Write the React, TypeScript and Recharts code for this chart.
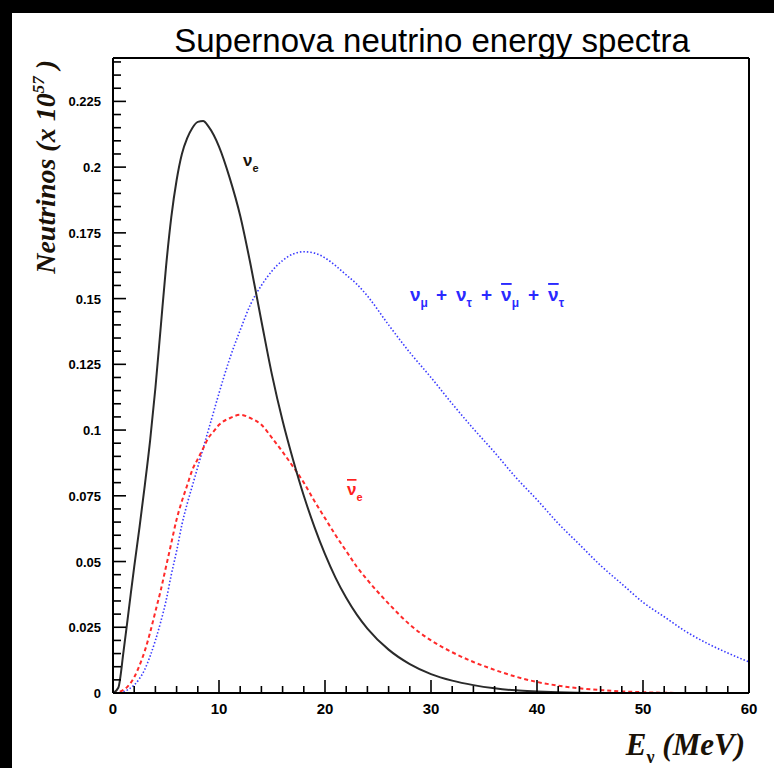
import React from "react";
import { LineChart, Line, XAxis, YAxis } from "recharts";

// energy grid (MeV)
const energy = [
  0, 0.5, 1, 1.5, 2, 2.5, 3, 3.5, 4, 4.5, 5, 5.5, 6, 6.5, 7, 7.5, 8, 8.5, 9, 9.5,
  10, 11, 12, 13, 14, 15, 16, 17, 18, 19, 20, 21, 22, 23, 24, 26, 28, 30, 32, 34,
  36, 38, 40, 42, 44, 46, 48, 50, 52, 54, 56, 58, 60,
];

// nu_e (black, solid)
const nuE = [
  0, 0.002, 0.016, 0.032, 0.048, 0.063, 0.079, 0.096, 0.116, 0.139, 0.162, 0.181,
  0.195, 0.205, 0.211, 0.215, 0.2172, 0.2175, 0.2155, 0.2122, 0.2078, 0.196,
  0.1815, 0.1625, 0.1415, 0.121, 0.1035, 0.0885, 0.075, 0.0632, 0.0528, 0.0438,
  0.0362, 0.0298, 0.0245, 0.0165, 0.011, 0.0072, 0.0047, 0.003, 0.0018, 0.001,
  0.0006, 0.0003, 0.0001, 0, 0, 0, 0, 0, 0, 0, 0,
];

// anti nu_e (red, dashed)
const nuEBar = [
  0, 0.0003, 0.0012, 0.003, 0.006, 0.0105, 0.016, 0.023, 0.031, 0.039, 0.048,
  0.057, 0.066, 0.073, 0.079, 0.085, 0.089, 0.093, 0.097, 0.0995, 0.102, 0.1045,
  0.1058, 0.1045, 0.102, 0.097, 0.0917, 0.086, 0.08, 0.073, 0.0665, 0.06, 0.054,
  0.048, 0.043, 0.034, 0.026, 0.02, 0.0155, 0.0118, 0.0088, 0.0062, 0.0042,
  0.0028, 0.0018, 0.0011, 0.0006, 0.0003, 0.0001, 0, 0, 0, 0,
];

// nu_mu + nu_tau + anti (blue, dotted)
const nuX = [
  0, 0.0001, 0.0005, 0.0015, 0.003, 0.0055, 0.009, 0.014, 0.02, 0.027, 0.035,
  0.045, 0.054, 0.064, 0.072, 0.079, 0.086, 0.093, 0.1, 0.107, 0.114, 0.127,
  0.138, 0.148, 0.155, 0.1605, 0.1645, 0.167, 0.1678, 0.1673, 0.1655, 0.1625,
  0.159, 0.1555, 0.151, 0.14, 0.1295, 0.12, 0.11, 0.1005, 0.0915, 0.082, 0.0735,
  0.0645, 0.0565, 0.0485, 0.0415, 0.0345, 0.029, 0.0235, 0.019, 0.0152, 0.0118,
];

const xTicks = Array.from({ length: 31 }, (_, i) => i * 2);
const yTicks = Array.from({ length: 49 }, (_, i) => i * 0.005);

const data = energy.map((e, i) => ({ e, nuE: nuE[i], nuEBar: nuEBar[i], nuX: nuX[i] }));

const TICK_OFF = 8;
const labelFont = "'Liberation Sans', Arial, sans-serif";
const serif = "'Liberation Serif', 'Times New Roman', serif";

function XTick(props: any) {
  const { x, y, payload } = props;
  const v = payload.value;
  const major = Math.abs(v % 10) < 1e-6;
  const ay = y - TICK_OFF;
  return (
    <g>
      <line x1={x} x2={x} y1={ay} y2={ay - (major ? 13 : 7)} stroke="#000" strokeWidth={1.6} />
      {major && (
        <text x={x} y={ay + 21} textAnchor="middle" fontFamily={labelFont} fontWeight="bold" fontSize={15} fill="#000">
          {v}
        </text>
      )}
    </g>
  );
}

function YTick(props: any) {
  const { x, y, payload } = props;
  const v = payload.value;
  const idx = Math.round(v / 0.005);
  const major = idx % 5 === 0;
  const ax = x + TICK_OFF;
  return (
    <g>
      <line x1={ax} x2={ax + (major ? 13 : 8)} y1={y} y2={y} stroke="#000" strokeWidth={1.6} />
      {major && (
        <text x={ax - 12} y={y + 5} textAnchor="end" fontFamily={labelFont} fontWeight="bold" fontSize={13} fill="#000">
          {parseFloat(v.toFixed(3)).toString()}
        </text>
      )}
    </g>
  );
}

const bar = { textDecoration: "overline" };

export default function App() {
  return (
    <div style={{ position: "absolute", left: 0, top: 0, width: 774, height: 768, background: "#000", overflow: "hidden" }}>
      <div style={{ position: "absolute", left: 12, top: 13, width: 762, height: 755, background: "#fff" }} />
      <div style={{ position: "absolute", left: 0, top: 0 }}>
        <LineChart width={774} height={768} data={data} margin={{ top: 57, right: 24, bottom: 35, left: 53 }}>
          <XAxis
            dataKey="e"
            type="number"
            domain={[0, 60]}
            ticks={xTicks}
            interval={0}
            allowDataOverflow
            height={40}
            tickSize={TICK_OFF}
            tickMargin={0}
            tickLine={false}
            axisLine={{ stroke: "#000", strokeWidth: 2 }}
            tick={<XTick />}
          />
          <XAxis
            xAxisId="top"
            orientation="top"
            type="number"
            domain={[0, 60]}
            height={1}
            tick={false}
            tickLine={false}
            axisLine={{ stroke: "#000", strokeWidth: 2 }}
          />
          <YAxis
            type="number"
            domain={[0, 0.2415]}
            ticks={yTicks}
            interval={0}
            allowDataOverflow
            width={60}
            tickSize={TICK_OFF}
            tickMargin={0}
            tickLine={false}
            axisLine={{ stroke: "#000", strokeWidth: 2 }}
            tick={<YTick />}
          />
          <YAxis
            yAxisId="right"
            orientation="right"
            type="number"
            domain={[0, 0.2415]}
            width={1}
            tick={false}
            tickLine={false}
            axisLine={{ stroke: "#000", strokeWidth: 2 }}
          />
          <Line
            type="monotone"
            dataKey="nuX"
            stroke="#3a3aff"
            strokeWidth={1.6}
            strokeDasharray="1.5 2"
            dot={false}
            isAnimationActive={false}
          />
          <Line
            type="monotone"
            dataKey="nuEBar"
            stroke="#ff2a2a"
            strokeWidth={2}
            strokeDasharray="4 3"
            dot={false}
            isAnimationActive={false}
          />
          <Line
            type="monotone"
            dataKey="nuE"
            stroke="#2a2a2a"
            strokeWidth={2}
            dot={false}
            isAnimationActive={false}
          />
        </LineChart>
      </div>
      <svg width={774} height={768} style={{ position: "absolute", left: 0, top: 0, pointerEvents: "none" }}>
        <text x={432} y={52} textAnchor="middle" fontFamily={labelFont} fontSize={33} fill="#000">
          Supernova neutrino energy spectra
        </text>
        <text
          transform="translate(55,60) rotate(-90)"
          textAnchor="end"
          fontFamily={serif}
          fontWeight="bold"
          fontStyle="italic"
          fontSize={28}
          fill="#1a1208"
        >
          Neutrinos (x 10<tspan dy={-11} fontSize={17}>57</tspan>
          <tspan dy={11}> )</tspan>
        </text>
        <text x={745} y={755} textAnchor="end" fontFamily={serif} fontWeight="bold" fontStyle="italic" fontSize={31} fill="#1a1208">
          E<tspan dy={8} fontSize={18} fontStyle="normal">ν</tspan>
          <tspan dy={-8}> (MeV)</tspan>
        </text>
        <text x={243} y={166} fontFamily={labelFont} fontWeight="bold" fontSize={17} fill="#1a1208">
          ν<tspan dy={6} fontSize={11}>e</tspan>
        </text>
        <text x={410} y={301} fontFamily={labelFont} fontWeight="bold" fontSize={19} fill="#2a2aff">
          ν<tspan dy={6} fontSize={12}>μ</tspan>
          <tspan dy={-6} dx={8}>+</tspan>
          <tspan dx={9}>ν</tspan>
          <tspan dy={6} fontSize={12}>τ</tspan>
          <tspan dy={-6} dx={9}>+</tspan>
          <tspan dx={9} style={bar}>ν</tspan>
          <tspan dy={6} fontSize={12}>μ</tspan>
          <tspan dy={-6} dx={9}>+</tspan>
          <tspan dx={9} style={bar}>ν</tspan>
          <tspan dy={6} fontSize={12}>τ</tspan>
        </text>
        <text x={347} y={495} fontFamily={labelFont} fontWeight="bold" fontSize={17} fill="#ff2020">
          <tspan style={bar}>ν</tspan>
          <tspan dy={6} fontSize={11}>e</tspan>
        </text>
      </svg>
    </div>
  );
}
